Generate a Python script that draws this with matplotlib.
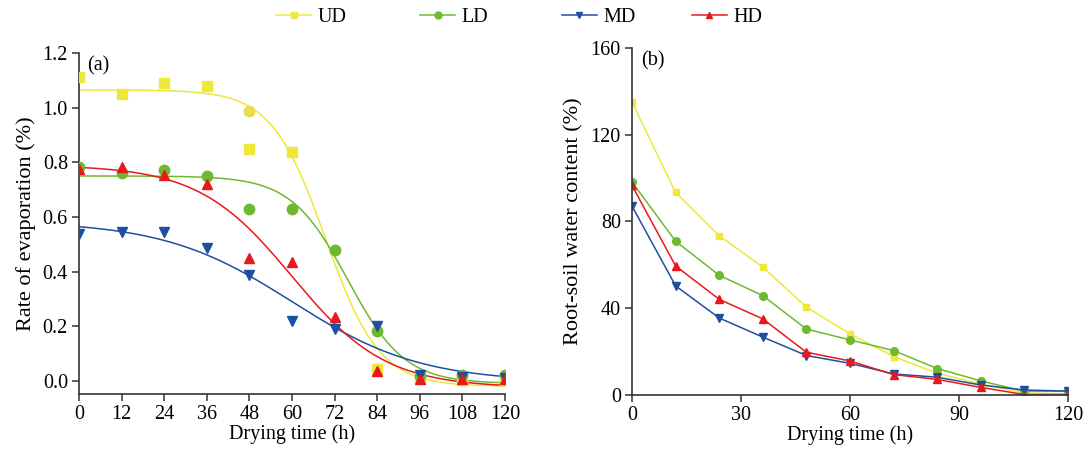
import numpy as np
import matplotlib
matplotlib.use("Agg")
import matplotlib.pyplot as plt
from matplotlib.lines import Line2D

plt.rcParams['font.family'] = ['Liberation Serif', 'DejaVu Serif']
plt.rcParams['font.size'] = 14.5

# drying time (h)
hours = [0, 12, 24, 36, 48, 60, 72, 84, 96, 108, 120]

# (a) rate of evaporation (%) - measured points (nan = hidden / not shown)
ud_rate = [1.111, 1.050, 1.090, 1.081, 0.850, 0.839, np.nan, 0.043, 0.012, 0.005, 0.005]
ld_rate = [0.782, 0.759, 0.770, 0.749, 0.630, 0.630, 0.479, 0.183, 0.018, 0.021, 0.021]
md_rate = [0.539, 0.546, 0.546, 0.485, 0.386, 0.219, 0.191, 0.199, 0.021, 0.015, 0.012]
hd_rate = [0.774, 0.783, 0.755, 0.722, 0.451, 0.435, 0.235, 0.037, 0.006, 0.006, 0.006]
# extra yellow circle at 48 h
ud_circle_x = [48]
ud_circle_y = [0.987]

# Boltzmann fit parameters (A1, A2, x0, dx)
ud_fit = [1.065, -0.020, 69.4, 7.6]
ld_fit = [0.750, -0.010, 75.7, 8.0]
md_fit = [0.585, -0.005, 60.0, 18.1]
hd_fit = [0.790, -0.025, 60.0, 13.2]

# (b) root-soil water content (%)
ud_water = [135.0, 93.4, 73.4, 59.0, 40.5, 28.2, 17.7, 10.0, 5.1, 0.9, 0.5]
ld_water = [98.2, 70.9, 55.2, 45.8, 30.4, 25.4, 20.5, 12.2, 6.5, 1.7, 1.7]
md_water = [87.1, 50.3, 35.5, 26.7, 18.2, 14.6, 9.7, 8.2, 4.6, 2.3, 1.8]
hd_water = [96.6, 59.5, 44.1, 35.1, 19.7, 15.7, 9.4, 7.2, 3.5, 0.2, 0.2]

names = ['UD', 'LD', 'MD', 'HD']
colors = ['#EDE83A', '#6DBA2F', '#1F4FA0', '#E8191C']
markers = ['s', 'o', 'v', '^']


def boltzmann(x, p):
    a1, a2, x0, dx = p
    return a2 + (a1 - a2) / (1 + np.exp((x - x0) / dx))


fig = plt.figure(figsize=(10.91, 4.55), dpi=100)
ax1 = fig.add_axes([0.0724, 0.1341, 0.3905, 0.7494])
ax2 = fig.add_axes([0.5793, 0.1319, 0.3996, 0.7626])

xs = np.linspace(0, 120, 400)
rates = [ud_rate, ld_rate, md_rate, hd_rate]
fits = [ud_fit, ld_fit, md_fit, hd_fit]
waters = [ud_water, ld_water, md_water, hd_water]

# panel a: fitted curves + points
for p, c in zip(fits, colors):
    ax1.plot(xs, boltzmann(xs, p), color=c, lw=1.1, zorder=2)
for r, c, m in zip(rates, colors, markers):
    ms = 6.5 if m == 's' else 7.5
    ax1.plot(hours, r, ls='none', marker=m, color=c, ms=ms, zorder=3)
ax1.plot(ud_circle_x, ud_circle_y, ls='none', marker='o', color='#E6DC55', ms=7.5, zorder=3)

ax1.set_xlim(0, 120)
ax1.set_ylim(-0.048, 1.2)
ax1.set_xticks(hours)
ax1.set_yticks(np.arange(0, 1.21, 0.2))
ax1.yaxis.set_major_formatter(matplotlib.ticker.FormatStrFormatter('%.1f'))
ax1.set_xlabel('Drying time (h)', labelpad=0)
ax1.set_ylabel('Rate of evaporation (%)', labelpad=5, fontsize=16)
ax1.text(0.02, 0.99, '(a)', transform=ax1.transAxes, va='top', ha='left')

# panel b: lines with markers
for w, c, m in zip(waters, colors, markers):
    ms = 4.5 if m == 's' else 5.5
    ax2.plot(hours, w, color=c, marker=m, ms=ms, lw=1.1)

ax2.set_xlim(0, 120)
ax2.set_ylim(0, 160)
ax2.set_xticks([0, 30, 60, 90, 120])
ax2.set_yticks([0, 40, 80, 120, 160])
ax2.set_xlabel('Drying time (h)', labelpad=0)
ax2.set_ylabel('Root-soil water content (%)', labelpad=5, fontsize=16)
ax2.text(0.02, 0.99, '(b)', transform=ax2.transAxes, va='top', ha='left')

for ax in (ax1, ax2):
    ax.spines['top'].set_visible(False)
    ax.spines['right'].set_visible(False)
    ax.spines['left'].set_linewidth(1.2)
    ax.spines['bottom'].set_linewidth(1.2)
    ax.spines['left'].set_color('#333333')
    ax.spines['bottom'].set_color('#333333')
    ax.tick_params(direction='out', length=5, width=1.1, pad=3, color='#333333')

# legend entries placed one by one along the top
legend_x = [0.253, 0.385, 0.515, 0.634]
for name, c, m, lx in zip(names, colors, markers, legend_x):
    h = Line2D([], [], color=c, marker=m, ms=5, lw=1.1)
    fig.legend([h], [name], loc='center left', bbox_to_anchor=(lx, 0.962),
               frameon=False, handlelength=1.75, handletextpad=0.3,
               borderaxespad=0, borderpad=0)

fig.savefig('out.png', dpi=100)
